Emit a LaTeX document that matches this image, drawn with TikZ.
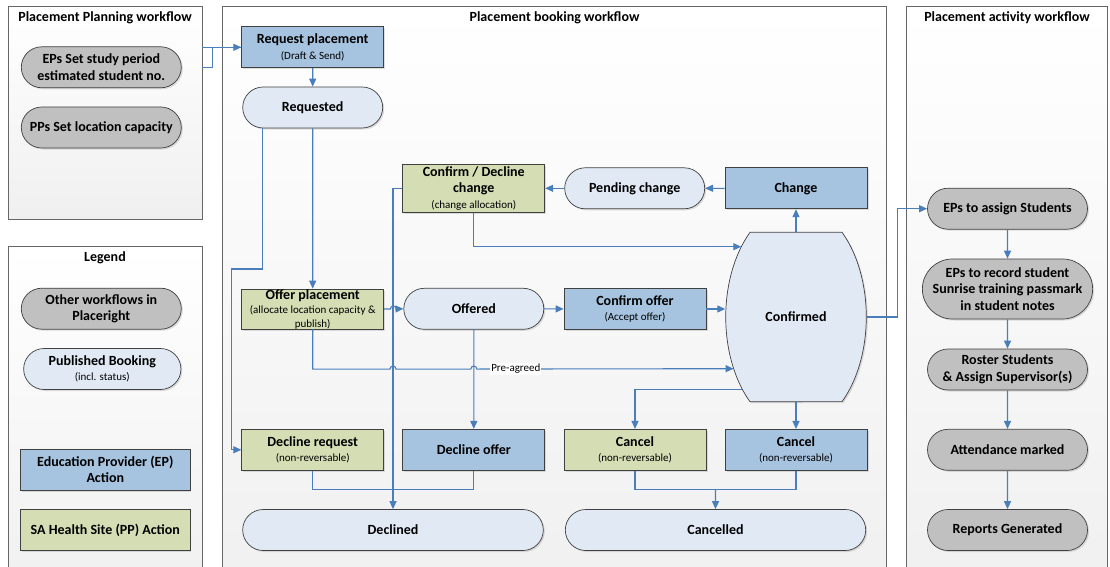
\documentclass[tikz,border=0pt]{standalone}
\usepackage{fontspec}
\setmainfont{Carlito}
\usetikzlibrary{arrows.meta,shapes.misc,shadows,calc}

\definecolor{lineblue}{HTML}{4A7EBB}
\definecolor{epblue}{HTML}{A6C3DF}
\definecolor{ppgreen}{HTML}{D5DDB5}
\definecolor{statefill}{HTML}{E1EAF4}
\definecolor{othergray}{HTML}{C0C0C0}
\definecolor{edgegray}{HTML}{404040}
\newcommand{\subtxt}[1]{{\fontsize{11}{13}\selectfont\mdseries #1}}

\begin{document}
\begin{tikzpicture}[
  x=1pt, y=-1pt,
  >={Triangle[length=8pt,width=7pt]},
  every node/.style={font=\fontsize{14}{15.5}\selectfont\bfseries},
  panel/.style={draw=black!60, line width=0.8pt, top color=white, bottom color=black!6},
  box/.style={draw=edgegray, line width=0.7pt, minimum width=142, minimum height=41, align=center, inner sep=1pt,
    drop shadow={shadow xshift=1.5pt, shadow yshift=-1.5pt, opacity=0.25}},
  ep/.style={box, fill=epblue},
  pp/.style={box, fill=ppgreen},
  state/.style={box, rounded rectangle, fill=statefill},
  other/.style={box, rounded rectangle, fill=othergray, minimum width=162, font=\fontsize{14}{16.8}\selectfont\bfseries},
  link/.style={draw=lineblue, line width=1.1pt},
  arr/.style={link, ->},
  lbl/.style={fill=white, font=\fontsize{11}{13}\selectfont, inner sep=1pt}
]
\clip (0,0) rectangle (1110,567);

% panels
\node[panel, minimum width=194, minimum height=213] (plan) at (105,112.5) {};
\node[panel, minimum width=194, minimum height=354] (legend) at (105,423) {};
\node[panel, minimum width=664, minimum height=594] (book) at (554.7,303) {};
\node[panel, minimum width=201, minimum height=594] (act) at (1007.2,303) {};
\node (plantitle) at (105,18) {Placement Planning workflow};
\node (legtitle) at (105,257.3) {Legend};
\node (booktitle) at (554.5,18) {Placement booking workflow};
\node (acttitle) at (1007,18) {Placement activity workflow};

% planning
\node[other] (setstudy) at (101.3,67.3) {EPs Set study period\\estimated student no.};
\node[other] (setcap) at (101.3,127.5) {PPs Set location capacity};

% legend
\node[other] (lgother) at (101.3,308.7) {Other workflows in\\Placeright};
\node[state, minimum width=159.3] (lgstate) at (102.3,369) {Published Booking\\\subtxt{(incl. status)}};
\node[ep, minimum width=169.3] (lgep) at (105.3,469.5) {Education Provider (EP)\\[1pt]Action};
\node[pp, minimum width=169.3] (lgpp) at (105.3,530.3) {SA Health Site (PP) Action};

% booking
\node[ep] (reqpl) at (312.7,47.3) {Request placement\\\subtxt{(Draft \& Send)}};
\node[state] (requested) at (312.7,107.5) {Requested};
\node[pp, minimum height=48] (cdchange) at (473.8,188.3) {Confirm / Decline\\[1pt]change\\\subtxt{(change allocation)}};
\node[state] (pending) at (634.7,188.3) {Pending change};
\node[ep] (change) at (796,188.3) {Change};
\node[pp, inner ysep=0pt, minimum height=40] (offerpl) at (312.7,309) {Offer placement\\[-1pt]\subtxt{(allocate location capacity \&}\\[-2pt]\subtxt{publish)}};
\node[state] (offered) at (473.8,308.8) {Offered};
\node[ep] (confoffer) at (635,309) {Confirm offer\\\subtxt{(Accept offer)}};
\node[pp] (declreq) at (312.7,449.8) {Decline request\\\subtxt{(non-reversable)}};
\node[ep] (decloffer) at (473.8,449.8) {Decline offer};
\node[pp] (cancelpp) at (635,449.8) {Cancel\\\subtxt{(non-reversable)}};
\node[ep] (cancelep) at (796,449.8) {Cancel\\\subtxt{(non-reversable)}};
\node[state, minimum width=302.6] (declined) at (393,530) {Declined};
\node[state, minimum width=302.4] (cancelled) at (715.5,530) {Cancelled};

% confirmed (clipped ellipse)
\coordinate (confc) at (796,317);
\begin{scope}[shift={(confc)}]
\filldraw[fill=statefill, draw=edgegray, line width=0.7pt, drop shadow={shadow xshift=1.5pt, shadow yshift=-1.5pt, opacity=0.25}]
  (-46,-84.7) -- (46,-84.7) arc[start angle=49.1, end angle=-49.1, x radius=70.3pt, y radius=112pt]
  -- (-46,84.7) arc[start angle=229.1, end angle=130.9, x radius=70.3pt, y radius=112pt] -- cycle;
\end{scope}
\node[minimum width=141, minimum height=169] (conf) at (confc) {Confirmed};
\coordinate (confA) at (741.3,246.7);
\coordinate (confC) at (733.6,368.7);
\coordinate (confD) at (742.3,389.3);

% activity
\node[other] (assign) at (1007.5,208.7) {EPs to assign Students};
\node[other, minimum height=60] (record) at (1007.5,289) {EPs to record student\\Sunrise training passmark\\in student notes};
\node[other] (roster) at (1007.5,369.5) {Roster Students\\\& Assign Supervisor(s)};
\node[other] (attend) at (1007.5,449.8) {Attendance marked};
\node[other] (reports) at (1007.5,530) {Reports Generated};

% connectors
\draw[link] (plan.east |- setstudy) -- ++(10,0) |- (reqpl.west);
\draw[arr] (plan.east |- reqpl) -- (reqpl.west);
\draw[arr] (reqpl) -- (requested);
\draw[arr] (requested) -- (offerpl);
\draw[arr] ([xshift=-50.4]requested.south) -- ++(0,140.6) -- ++(-30.6,0) |- (declreq.west);
\draw[arr] (cdchange.west) -| (declined.north);
\draw[arr] (cdchange.south) |- (confA);
\draw[arr] (change) -- (pending);
\draw[arr] (pending) -- (cdchange);
\draw[arr] (conf.north) -- (change);
\draw[arr] (offerpl.east) -- ++(6.3,0) arc[start angle=180, end angle=0, radius=3pt] -- (offered.west);
\draw[arr] (offered) -- (confoffer);
\draw[arr] (confoffer) -- (confoffer -| conf.west);
\draw[arr] (offerpl.south) -- ++(0,39.7) -- ++(77.3,0) arc[start angle=180, end angle=0, radius=3pt]
  -- ++(74.8,0) arc[start angle=180, end angle=0, radius=3pt] -- node[lbl, pos=0.152] {Pre-agreed} (confC);
\draw[arr] (offered) -- (decloffer);
\draw[arr] (confD) -| (cancelpp);
\draw[arr] (conf.south) -- (cancelep);
\draw[link] (declreq.south) -- ++(0,19) -| (decloffer.south);
\coordinate (cmerge) at ($(cancelpp.south)!0.5!(cancelep.south)+(0,19)$);
\draw[link] (cancelpp.south) |- (cmerge) -| (cancelep.south);
\draw[arr] (cmerge) -- (cancelled);
\draw[arr] (conf.east) -- ++(30.4,0) |- (assign.west);
\draw[arr] (assign) -- (record);
\draw[arr] (record) -- (roster);
\draw[arr] (roster) -- (attend);
\draw[arr] (attend) -- (reports);
\end{tikzpicture}
\end{document}
